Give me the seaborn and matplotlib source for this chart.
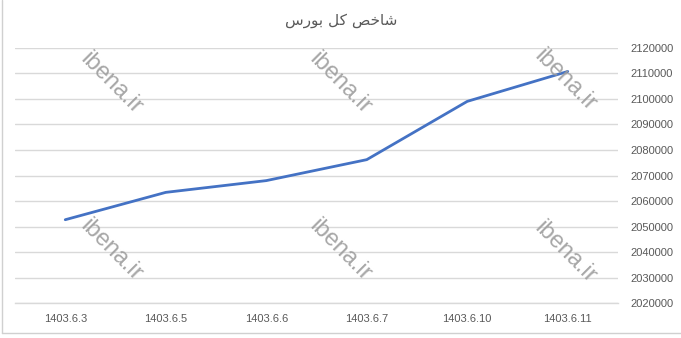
import matplotlib
matplotlib.use("Agg")
import matplotlib.pyplot as plt
import seaborn as sns
import pandas as pd
from matplotlib.lines import Line2D

dates = ["1403.6.3", "1403.6.5", "1403.6.6", "1403.6.7", "1403.6.10", "1403.6.11"]
index_values = [2052700, 2063400, 2068000, 2076200, 2099000, 2110700]
y_ticks = list(range(2020000, 2120001, 10000))
# Title "شاخص کل بورس" in shaped presentation forms (visual order) for matplotlib
title_text = "\uFEB1\uFEAD\uFEEE\uFE91 \uFEDE\uFB90 \uFEBA\uFEA7\uFE8E\uFEB7"
watermark = "ibena.ir"

sns.set_style("white")
plt.rcParams["font.family"] = ["Liberation Sans", "DejaVu Sans"]

df = pd.DataFrame({"date": dates, "value": index_values})

fig = plt.figure(figsize=(6.81, 3.38), dpi=100)
ax = fig.add_axes([15 / 681, 1 - 303.3 / 338, (618 - 15) / 681, 255.6 / 338])

sns.lineplot(data=df, x="date", y="value", ax=ax, color="#4472C4",
             linewidth=2.0, sort=False, zorder=5)

ax.set_xlim(-0.5, len(dates) - 0.5)
ax.set_ylim(y_ticks[0], y_ticks[-1])
ax.set_yticks(y_ticks)
ax.set_yticklabels([str(v) for v in y_ticks])
ax.yaxis.tick_right()
ax.grid(axis="y", color="#d9d9d9", linewidth=1.0)
ax.grid(axis="x", visible=False)
for s in ["top", "left", "right"]:
    ax.spines[s].set_visible(False)
ax.spines["bottom"].set_color("#d9d9d9")
ax.spines["bottom"].set_linewidth(1.0)
ax.tick_params(axis="y", length=0, pad=9, labelsize=8, labelcolor="#595959")
ax.tick_params(axis="x", length=0, pad=8, labelsize=8, labelcolor="#595959")
ax.set_xlabel("")
ax.set_ylabel("")

fig.text(341 / 681, 1 - 20 / 338, title_text, ha="center", va="center",
         fontsize=11, color="#595959", family=["DejaVu Sans"])

# watermarks
wm_pos = [(111, 83), (340, 83), (565, 80), (111, 250), (340, 250), (565, 252)]
for (px, py) in wm_pos:
    fig.text(px / 681, 1 - py / 338, watermark, ha="center", va="center",
             rotation=-45, fontsize=17, color="#9d9d9d", alpha=0.9, zorder=10)

# chart area border
fig.add_artist(Line2D([1.5 / 681, 1.5 / 681], [1 - 333 / 338, 1.0],
                      transform=fig.transFigure, color="#d0d0d0", linewidth=1))
fig.add_artist(Line2D([1.5 / 681, 1.0], [1 - 333 / 338, 1 - 333 / 338],
                      transform=fig.transFigure, color="#d0d0d0", linewidth=1))

fig.savefig("out.png", dpi=100)
